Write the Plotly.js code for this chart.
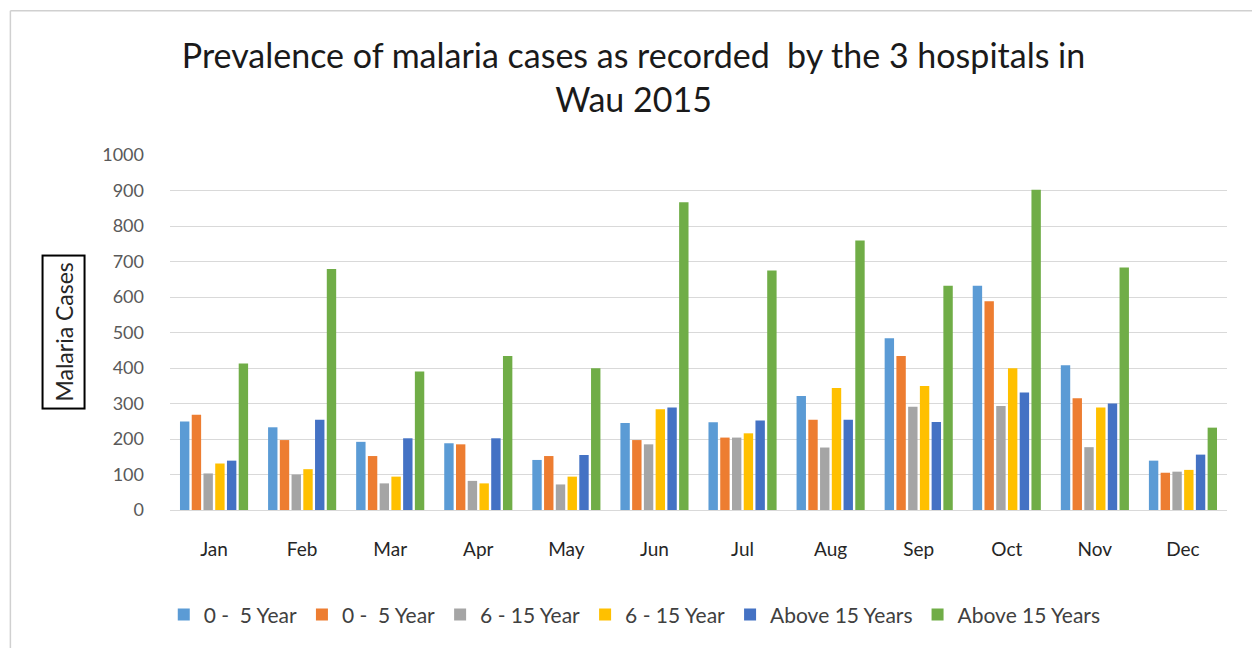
<!DOCTYPE html>
<html><head><meta charset="utf-8">
<script src="https://cdn.plot.ly/plotly-3.0.1.min.js"></script>
<style>html,body{margin:0;padding:0;background:#fff;}#chart{width:1252px;height:648px;}</style>
</head><body><div id="chart"></div>
<script>
const months = ["Jan","Feb","Mar","Apr","May","Jun","Jul","Aug","Sep","Oct","Nov","Dec"];
const seriesNames = ["0 -  5 Year","0 -  5 Year","6 - 15 Year","6 - 15 Year","Above 15 Years","Above 15 Years"];
const s1 = [249,233,192,188,141,245,247,321,484,632,408,139];
const s2 = [268,197,152,185,152,197,204,254,434,588,315,105];
const s3 = [103,100,75,82,72,185,204,176,291,293,177,108];
const s4 = [131,115,94,75,94,284,216,344,349,399,289,113];
const s5 = [139,254,202,202,155,289,252,254,248,331,300,156];
const s6 = [413,679,390,434,399,867,675,759,632,902,683,232];
const yTicks = [0,100,200,300,400,500,600,700,800,900,1000];
const colors = ["#5B9BD5","#ED7D31","#A5A5A5","#FFC000","#4472C4","#70AD47"];
const all = [s1,s2,s3,s4,s5,s6];
const font = "Lato, 'Open Sans', sans-serif";
const data = all.map((v,i)=>({type:"bar",x:months,y:v,name:seriesNames[i],marker:{color:colors[i]},hoverinfo:"y"}));
const layout = {
  width:1252,height:648,
  margin:{l:170,r:25,t:155,b:138},
  paper_bgcolor:"#fff",plot_bgcolor:"#fff",
  font:{family:font,color:"#404040"},
  title:{text:"Prevalence of malaria cases as recorded  by the 3 hospitals in<br>Wau 2015",font:{size:34,color:"#1a1a1a",family:font},x:0.506,xanchor:"center",y:0.895,yanchor:"middle"},
  barmode:"group",bargap:0.2,bargroupgap:0.2,
  xaxis:{type:"category",tickfont:{size:19,color:"#262626"},showline:true,linecolor:"#d9d9d9",ticks:"",ticklen:0,automargin:false,ticklabelstandoff:22},
  yaxis:{range:[0,1000],tickvals:yTicks,ticktext:yTicks.map(String),tickfont:{size:18,color:"#595959"},gridcolor:"#d9d9d9",zeroline:false,showline:false,ticks:"",ticklabelstandoff:25,automargin:false},
  legend:{orientation:"h",xref:"container",yref:"container",x:0.507,xanchor:"center",y:0.051,yanchor:"middle",font:{size:21,color:"#404040"},itemgap:44},
  annotations:[{text:"Malaria Cases",xref:"paper",yref:"paper",x:-0.122,y:0.5,textangle:-90,showarrow:false,font:{size:23,color:"#262626",family:font},bordercolor:"#000",borderwidth:2,borderpad:6,bgcolor:"#fff"}],
  shapes:[
    {type:"line",xref:"paper",yref:"paper",x0:-0.151,x1:-0.151,y0:-0.39,y1:1.406,line:{color:"#d0d0d0",width:1.5}},
    {type:"line",xref:"paper",yref:"paper",x0:-0.151,x1:1.03,y0:1.406,y1:1.406,line:{color:"#d0d0d0",width:1.5}}
  ]
};
Plotly.newPlot("chart",data,layout,{staticPlot:true});
</script></body></html>
